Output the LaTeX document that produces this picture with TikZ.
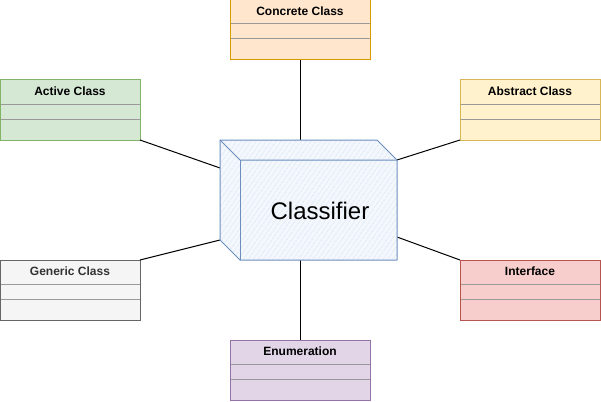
\documentclass[tikz,border=0pt]{standalone}
\usepackage{fontspec}
\setmainfont{Liberation Sans}
\usetikzlibrary{calc,patterns.meta}
\definecolor{ccFill}{HTML}{FFE6CC}\definecolor{ccDraw}{HTML}{D79B00}
\definecolor{abFill}{HTML}{FFF2CC}\definecolor{abDraw}{HTML}{D6B656}
\definecolor{acFill}{HTML}{D5E8D4}\definecolor{acDraw}{HTML}{82B366}
\definecolor{geFill}{HTML}{F5F5F5}\definecolor{geDraw}{HTML}{666666}
\definecolor{geText}{HTML}{333333}
\definecolor{inFill}{HTML}{F8CECC}\definecolor{inDraw}{HTML}{B85450}
\definecolor{enFill}{HTML}{E1D5E7}\definecolor{enDraw}{HTML}{9673A6}
\definecolor{sepGray}{HTML}{999999}
\definecolor{cubeDraw}{HTML}{6C8EBF}
\definecolor{cubeBack}{HTML}{F4F8FD}
\definecolor{hatch}{HTML}{CFDFF4}
\tikzset{
  classbox/.style={rectangle, anchor=north west, inner sep=0pt, outer sep=0pt,
    minimum width=140pt, minimum height=60pt, line width=1pt},
  boxtitle/.style={inner sep=0pt, font=\fontsize{12}{14}\selectfont\bfseries},
  sepline/.style={draw=sepGray, line width=1pt},
  conn/.style={draw=black, line width=1pt},
  cubeline/.style={draw=cubeDraw, line width=1pt, line join=round},
}
\newcommand\umlbox[7]{%
  \node[classbox, fill=#4, draw=#5] (#1) at (#2,#3) {};
  \node[boxtitle, text=#7] (#1-t) at ($(#1.north)+(0,11.5)$) {#6};
  \draw[sepline] ($(#1.north west)+(0.5,24)$) -- ($(#1.north east)+(-0.5,24)$);
  \draw[sepline] ($(#1.north west)+(0.5,39)$) -- ($(#1.north east)+(-0.5,39)$);
}
\begin{document}
\begin{tikzpicture}[x=1pt, y=-1pt]
  \useasboundingbox (0,0) rectangle (601,401);
  % cube corners
  \coordinate (bTL) at (220,140);
  \coordinate (bTR) at (377,140);
  \coordinate (fTR) at (397,160);
  \coordinate (fBR) at (397,260);
  \coordinate (fBL) at (240,260);
  \coordinate (bBL) at (220,240);
  \coordinate (fTL) at (240,160);
  \coordinate (cTop) at (300,140);
  \coordinate (cBot) at (300,260);
  \coordinate (cL1) at (220,168);
  \coordinate (cR2) at (397,237);
  % boxes
  \umlbox{cc}{230}{0}{ccFill}{ccDraw}{Concrete Class}{black}
  \umlbox{ab}{460}{80}{abFill}{abDraw}{Abstract Class}{black}
  \umlbox{ac}{0}{80}{acFill}{acDraw}{Active Class}{black}
  \umlbox{ge}{0}{260}{geFill}{geDraw}{Generic Class}{geText}
  \umlbox{in}{460}{260}{inFill}{inDraw}{Interface}{black}
  \umlbox{en}{230}{340}{enFill}{enDraw}{Enumeration}{black}
  % connectors
  \draw[conn] (cc.south) -- (cTop);
  \draw[conn] (en.north) -- (cBot);
  \draw[conn] (ac.south east) -- (cL1);
  \draw[conn] (ge.north east) -- (bBL);
  \draw[conn] (ab.south west) -- (fTR);
  \draw[conn] (in.north west) -- (cR2);
  % cube
  \fill[cubeBack] (bTL) -- (bTR) -- (fTR) -- (fBR) -- (fBL) -- (bBL) -- cycle;
  \path[pattern={Lines[angle=55, distance=4pt, line width=0.7pt]}, pattern color=hatch]
    (bTL) -- (bTR) -- (fTR) -- (fBR) -- (fBL) -- (bBL) -- cycle;
  \draw[cubeline] (bTL) -- (bTR) -- (fTR) -- (fBR) -- (fBL) -- (bBL) -- cycle;
  \draw[cubeline] (bTL) -- (fTL) -- (fTR);
  \draw[cubeline] (fTL) -- (fBL);
  \node[inner sep=0pt, font=\fontsize{24}{28}\selectfont] (cls) at (320,211) {Classifier};
\end{tikzpicture}
\end{document}
